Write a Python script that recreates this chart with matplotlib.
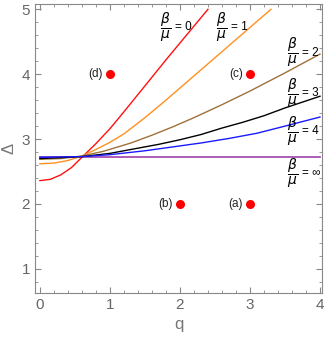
import numpy as np
import matplotlib.pyplot as plt
from matplotlib.ticker import MultipleLocator

plt.rcParams['font.family'] = ['Liberation Sans', 'DejaVu Sans']
plt.rcParams['mathtext.fontset'] = 'dejavusans'

# curves Delta(q) for several beta/mu
q_r = [0, 0.15, 0.3, 0.45, 0.6, 0.8, 1.0, 1.2, 1.5, 1.8, 2.1, 2.4]
d_r = [2.36, 2.38, 2.45, 2.56, 2.72, 2.93, 3.16, 3.42, 3.82, 4.22, 4.61, 5.0]

q_o = [0, 0.2, 0.4, 0.6, 0.8, 1.0, 1.2, 1.5, 1.8, 2.1, 2.4, 2.7, 3.0, 3.3]
d_o = [2.62, 2.63, 2.67, 2.74, 2.84, 2.95, 3.08, 3.33, 3.6, 3.88, 4.16, 4.44, 4.72, 5.0]

q_br = [0, 0.3, 0.6, 0.9, 1.3, 1.6, 1.9, 2.2, 2.6, 3.0, 3.5, 4.0]
d_br = [2.69, 2.70, 2.74, 2.81, 2.94, 3.06, 3.19, 3.33, 3.53, 3.74, 4.02, 4.31]

q_k = [0, 0.6, 1.0, 1.3, 1.7, 2.0, 2.3, 2.6, 2.9, 3.2, 3.5, 4.0]
d_k = [2.70, 2.73, 2.78, 2.84, 2.92, 2.99, 3.07, 3.17, 3.26, 3.36, 3.48, 3.66]

q_b = [0, 0.6, 1.0, 1.5, 1.9, 2.3, 2.7, 3.1, 3.5, 4.0]
d_b = [2.72, 2.73, 2.76, 2.82, 2.88, 2.94, 3.01, 3.09, 3.20, 3.34]

q_p = [0, 4.0]
d_p = [2.72, 2.72]

# marked points
pt_q = [3, 2, 3, 1]
pt_d = [2, 2, 4, 4]
pt_lab = ['(a)', '(b)', '(c)', '(d)']

# curve labels
lab_txt = ['0', '1', '2', '3', '4', '∞']
lab_q = [1.8, 2.6, 3.61, 3.61, 3.61, 3.61]
lab_d = [4.72, 4.72, 4.33, 3.71, 3.12, 2.47]

fig = plt.figure(figsize=(3.27, 3.41), dpi=100)
ax = fig.add_axes([0.107, 0.141, 0.878, 0.847])

ax.plot(q_p, d_p, color='#a650b0', lw=1.3)
ax.plot(q_r, d_r, color='#ff1010', lw=1.0)
ax.plot(q_o, d_o, color='#ff9020', lw=1.0)
ax.plot(q_br, d_br, color='#a0703a', lw=1.0)
ax.plot(q_k, d_k, color='black', lw=1.0)
ax.plot(q_b, d_b, color='#1a1aff', lw=1.0)

ax.plot(pt_q, pt_d, 'o', color='red', ms=6.5, mec='none')
for x, y, t in zip(pt_q, pt_d, pt_lab):
    ax.text(x - 0.1, y, t, ha='right', va='center', fontsize=8.5, color='#222222')

for x, y, t in zip(lab_q, lab_d, lab_txt):
    ax.text(x, y, r'$\dfrac{\beta}{\mu}$', ha='center', va='center', fontsize=10)
    ax.text(x + 0.13, y, '= ' + t, ha='left', va='center', fontsize=8.5)

ax.set_xlim(-0.07, 4.03)
ax.set_ylim(0.63, 5.08)

gray = '#888888'
for s in ax.spines.values():
    s.set_color(gray)
ax.xaxis.set_major_locator(MultipleLocator(1))
ax.xaxis.set_minor_locator(MultipleLocator(0.2))
ax.yaxis.set_major_locator(MultipleLocator(1))
ax.yaxis.set_minor_locator(MultipleLocator(0.2))
ax.tick_params(which='both', direction='in', top=True, right=True,
               color=gray, labelcolor='#666666', labelsize=11)
ax.tick_params(which='major', length=4)
ax.tick_params(which='minor', length=2)

ax.set_xlabel('q', fontsize=12, color='#777777')
ax.set_ylabel('Δ', fontsize=12, color='#777777')

fig.savefig('out.png', dpi=100)
